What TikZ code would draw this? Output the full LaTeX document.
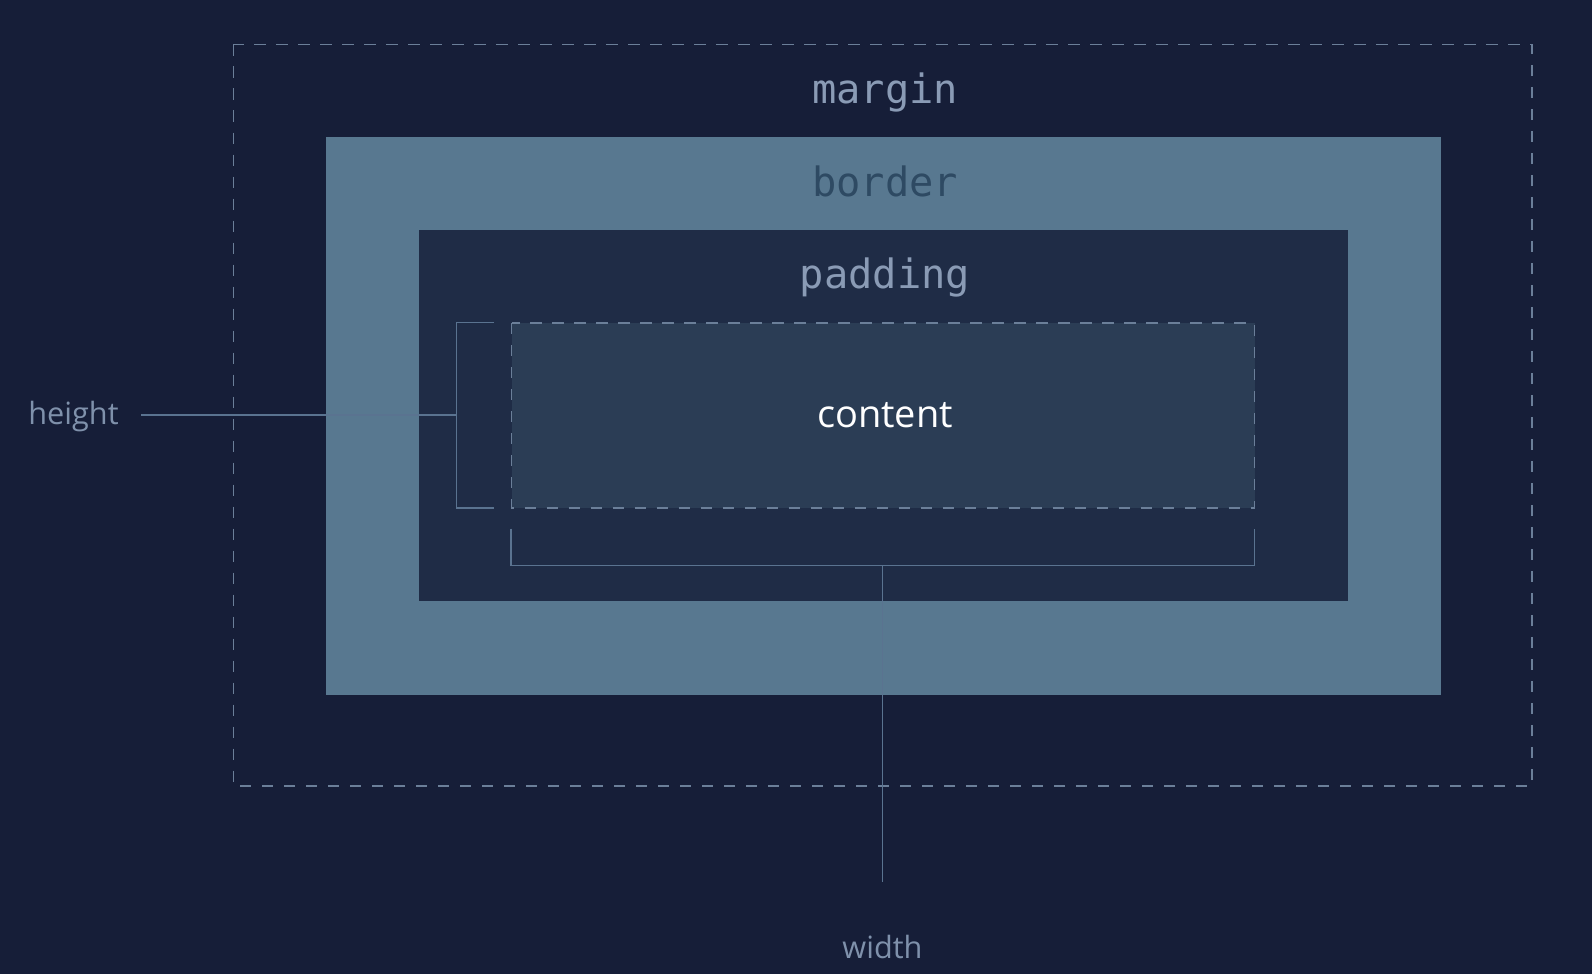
\documentclass[tikz,border=0pt]{standalone}
\usepackage{fontspec}
\setmainfont{Open Sans}
\newfontfamily\codefont{DejaVu Sans Mono}
\definecolor{bgc}{HTML}{161E38}
\definecolor{borderc}{HTML}{587890}
\definecolor{paddingc}{HTML}{1F2C46}
\definecolor{contentc}{HTML}{2B3D55}
\definecolor{dashc}{HTML}{6B7F99}
\definecolor{linec}{HTML}{5A7390}
\definecolor{labelc}{HTML}{8A9BB5}
\definecolor{bordertext}{HTML}{2E4A63}
\definecolor{sidetext}{HTML}{7F91AB}
\tikzset{
  dimline/.style={draw=linec, line width=1.45pt},
  dashbox/.style={draw=dashc, line width=1.35pt, dash pattern=on 8.5pt off 8pt},
  codelabel/.style={font=\codefont\fontsize{30.3}{36}\selectfont, anchor=base, inner sep=0pt},
  sidelabel/.style={font=\fontsize{23}{28}\selectfont, text=sidetext, anchor=base, inner sep=0pt},
}
\begin{document}
\begin{tikzpicture}[x=0.75pt, y=-0.75pt]
\useasboundingbox (0,0) rectangle (1592,974);
\fill[bgc] (0,0) rectangle (1592,974);
% margin
\draw[dashbox] (233.5,44.5) coordinate (mTL) rectangle (1532,786) coordinate (mBR);
% border
\fill[borderc] (325.5,136.5) coordinate (bTL) rectangle (1440.5,694.5) coordinate (bBR);
% padding
\fill[paddingc] (418.5,229.5) coordinate (pTL) rectangle (1347.5,601) coordinate (pBR);
% content
\draw[dashbox, fill=contentc] (511.5,323) coordinate (cTL) rectangle (1254.5,508) coordinate (cBR);
% labels
\node[codelabel, text=labelc] (marginlbl) at (885,103.5) {margin};
\node[codelabel, text=bordertext] (borderlbl) at (885,196.5) {border};
\node[codelabel, text=labelc] (paddinglbl) at (885,288.5) {padding};
\node[font=\fontsize{28.5}{34}\selectfont, text=white, anchor=base, inner sep=0pt] (contentlbl) at (885,427) {content};
\node[sidelabel] (heightlbl) at (73.5,424) {height};
\node[sidelabel] (widthlbl) at (882.5,958) {width};
% height bracket
\coordinate (hT) at (494,322.5);
\coordinate (hB) at (494,508);
\coordinate (hM) at (456.5,415);
\coordinate (hL) at (141,415);
\draw[dimline] (hT) -- (456.5,322.5) -- (456.5,508) -- (hB);
\draw[dimline] (hL) -- (hM);
% width bracket
\coordinate (wL) at (511,528.5);
\coordinate (wR) at (1254.5,528.5);
\coordinate (wM) at (882.5,565.5);
\coordinate (wE) at (882.5,881.5);
\draw[dimline] (wL) -- (511,565.5) -- (1254.5,565.5) -- (wR);
\draw[dimline] (wM) -- (wE);
\end{tikzpicture}
\end{document}
